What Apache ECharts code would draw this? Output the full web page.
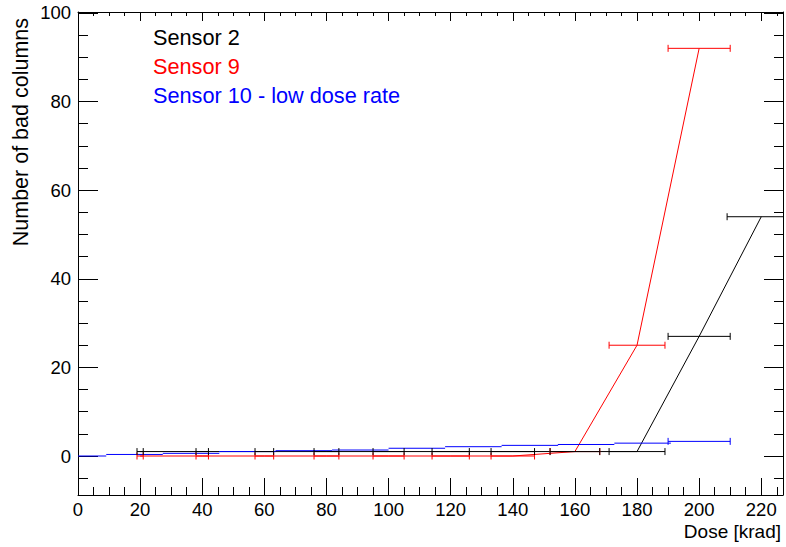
<!DOCTYPE html>
<html>
<head>
<meta charset="utf-8">
<script src="https://cdn.jsdelivr.net/npm/echarts@6/dist/echarts.min.js"></script>
<style>
  html, body { margin: 0; padding: 0; background: #ffffff; }
  #chart { width: 786px; height: 547px; }
</style>
</head>
<body>
<div id="chart"></div>
<script>
// Bad columns versus accumulated dose, per sensor (dose error = half-width of the bar)
const sensor2Dose    = [20, 40, 60, 80, 100, 120, 140, 160, 180, 200, 220];
const sensor2DoseErr = [1, 2, 3, 4, 5, 6, 7, 8, 9, 10, 11];
const sensor2Cols    = [1, 1, 1, 1, 1, 1, 1, 1, 1, 27, 54];

const sensor9Dose    = [20, 40, 60, 80, 100, 120, 140, 160, 180, 200];
const sensor9DoseErr = [1, 2, 3, 4, 5, 6, 7, 8, 9, 10];
const sensor9Cols    = [0, 0, 0, 0, 0, 0, 0, 1, 25, 92];

const sensor10Dose    = [0, 18.2, 36.4, 54.5, 72.7, 90.9, 109.1, 127.3, 145.5, 163.6, 181.8, 200];
const sensor10DoseErr = [9.1, 9.1, 9.1, 9.1, 9.1, 9.1, 9.1, 9.1, 9.1, 9.1, 9.1, 10];
const sensor10Cols    = [0, 0.35, 0.6, 1.0, 1.2, 1.35, 1.75, 2.1, 2.4, 2.6, 2.9, 3.3];

const seriesNames = ['Sensor 2', 'Sensor 9', 'Sensor 10 - low dose rate'];
const xTitle = 'Dose [krad]';
const yTitle = 'Number of bad columns';

const FONT = 'Liberation Sans, Arial, Helvetica, sans-serif';
const BLACK = '#000000', RED = '#ff0000', BLUE = '#0000ff';

const chart = echarts.init(document.getElementById('chart'), null, { renderer: 'svg' });

function pairs(xs, ys) { return xs.map((x, i) => [x, ys[i]]); }

// polyline joining the points
function lineSeries(name, color, xs, ys) {
  return {
    type: 'line', name: name, data: pairs(xs, ys),
    showSymbol: false, symbol: 'none', animation: false, z: 2,
    lineStyle: { color: color, width: 1 }, itemStyle: { color: color }
  };
}

// horizontal dose error bars with small end caps
function errorSeries(name, color, xs, errs, ys, capsOnLastOnly) {
  return {
    type: 'custom', name: name, clip: true, animation: false, z: 3,
    data: xs.map((x, i) => [x, errs[i], ys[i], i]),
    encode: { x: 0, y: 2 },
    renderItem: function (params, api) {
      const x = api.value(0), e = api.value(1), y = api.value(2), i = api.value(3);
      const a = api.coord([x - e, y]);
      const b = api.coord([x + e, y]);
      const st = { stroke: color, lineWidth: 1 };
      const children = [{ type: 'line', shape: { x1: a[0], y1: a[1], x2: b[0], y2: b[1] }, style: st }];
      if (!capsOnLastOnly || i === xs.length - 1) {
        children.push({ type: 'line', shape: { x1: a[0], y1: a[1] - 3.5, x2: a[0], y2: a[1] + 3.5 }, style: st });
        children.push({ type: 'line', shape: { x1: b[0], y1: b[1] - 3.5, x2: b[0], y2: b[1] + 3.5 }, style: st });
      }
      return { type: 'group', children: children };
    }
  };
}

const axisLine = { show: true, onZero: false, lineStyle: { color: BLACK, width: 1 } };
const tickStyle = { color: BLACK, width: 1 };
const multipleOf20 = v => (Math.abs(v % 20) < 1e-6 ? String(Math.round(v)) : '');
const labelStyle = { color: BLACK, fontFamily: FONT, fontSize: 18.5, formatter: multipleOf20 };

const X_MIN = 0, X_MAX = 227;
const Y_MIN = -8.8, Y_MAX = 100.2;

const option = {
  backgroundColor: '#ffffff',
  animation: false,
  grid: { left: 78, right: 1, top: 12, bottom: 52, containLabel: false },
  xAxis: [
    {
      type: 'value', position: 'bottom', min: X_MIN, max: X_MAX, interval: 20,
      axisLine: axisLine, splitLine: { show: false },
      axisTick: { show: true, inside: true, length: 17, lineStyle: tickStyle },
      minorTick: { show: true, splitNumber: 4, length: 8, lineStyle: tickStyle },
      axisLabel: Object.assign({ margin: 5 }, labelStyle)
    },
    {
      type: 'value', position: 'top', min: X_MIN, max: X_MAX, interval: 20,
      axisLine: axisLine, splitLine: { show: false },
      axisTick: { show: true, inside: true, length: 9, lineStyle: tickStyle },
      minorTick: { show: true, splitNumber: 4, length: 4, lineStyle: tickStyle },
      axisLabel: { show: false }
    }
  ],
  yAxis: [
    {
      type: 'value', position: 'left', min: Y_MIN, max: Y_MAX, splitNumber: 5,
      axisLine: axisLine, splitLine: { show: false },
      axisTick: { show: true, inside: true, length: 20, lineStyle: tickStyle },
      minorTick: { show: true, splitNumber: 4, length: 10, lineStyle: tickStyle },
      axisLabel: Object.assign({ margin: 7 }, labelStyle)
    },
    {
      type: 'value', position: 'right', min: Y_MIN, max: Y_MAX, splitNumber: 5,
      axisLine: axisLine, splitLine: { show: false },
      axisTick: { show: true, inside: true, length: 19, lineStyle: tickStyle },
      minorTick: { show: true, splitNumber: 4, length: 9, lineStyle: tickStyle },
      axisLabel: { show: false }
    }
  ],
  series: [
    // low dose rate sensor: dose bars only
    errorSeries(seriesNames[2], BLUE, sensor10Dose, sensor10DoseErr, sensor10Cols, true),
    lineSeries(seriesNames[1], RED, sensor9Dose, sensor9Cols),
    errorSeries(seriesNames[1], RED, sensor9Dose, sensor9DoseErr, sensor9Cols, false),
    lineSeries(seriesNames[0], BLACK, sensor2Dose, sensor2Cols),
    errorSeries(seriesNames[0], BLACK, sensor2Dose, sensor2DoseErr, sensor2Cols, false)
  ],
  graphic: [
    { type: 'text', left: 153, top: 26, style: { text: seriesNames[0], fill: BLACK, font: '21.7px ' + FONT } },
    { type: 'text', left: 153, top: 55, style: { text: seriesNames[1], fill: RED, font: '21.7px ' + FONT } },
    { type: 'text', left: 153, top: 84, style: { text: seriesNames[2], fill: BLUE, font: '21.7px ' + FONT } },
    {
      type: 'text', x: 781, y: 531,
      style: { text: xTitle, fill: BLACK, font: '19px ' + FONT, align: 'right', verticalAlign: 'middle' }
    },
    {
      type: 'text', x: 21, y: 18, rotation: Math.PI / 2,
      style: { text: yTitle, fill: BLACK, font: '21.5px ' + FONT, align: 'right', verticalAlign: 'middle' }
    }
  ]
};

chart.setOption(option);
</script>
</body>
</html>
